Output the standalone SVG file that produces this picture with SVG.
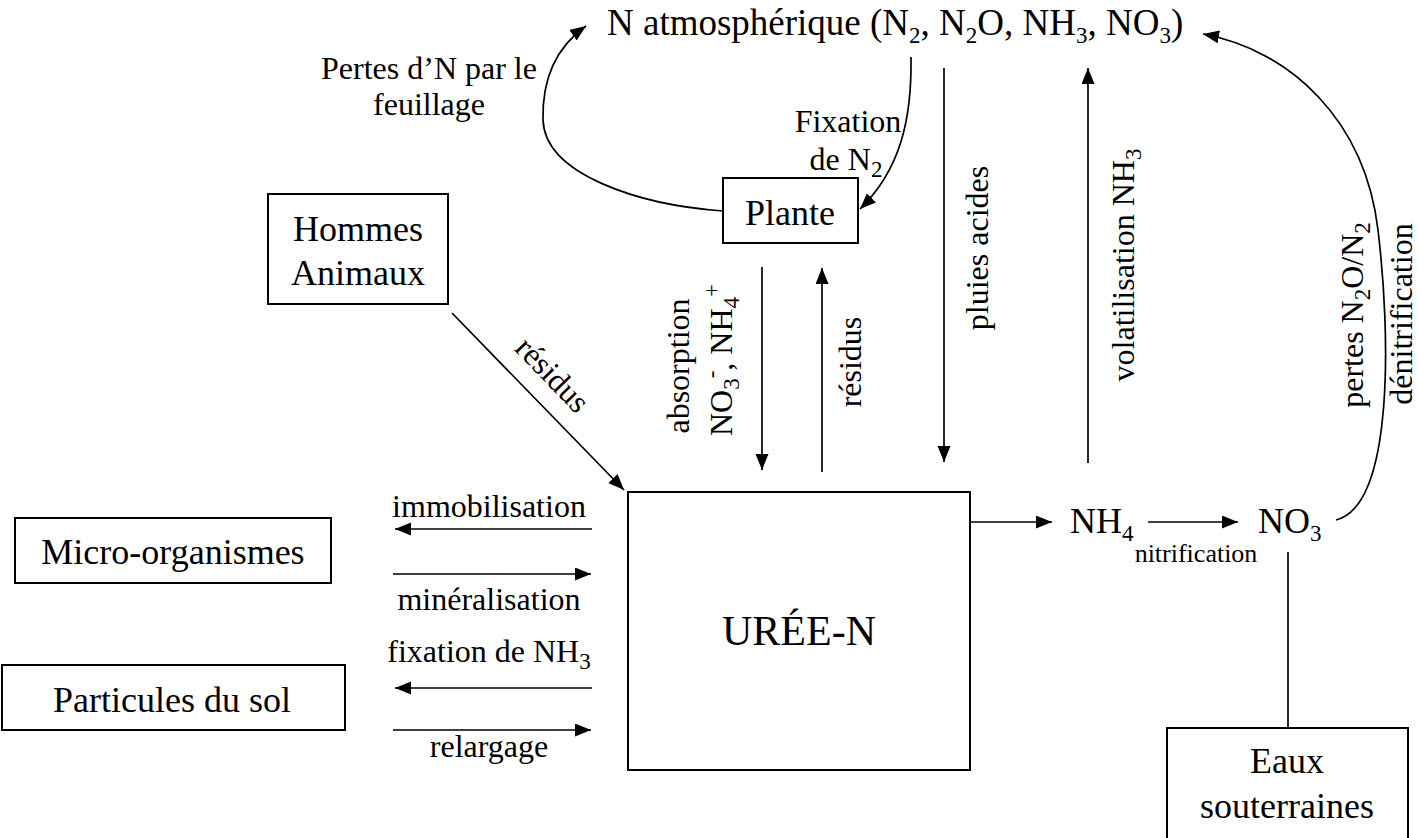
<svg xmlns="http://www.w3.org/2000/svg" width="1419" height="838" viewBox="0 0 1419 838" font-family="'Liberation Serif', 'Times New Roman', serif">
<style>
text{font-family:"Liberation Serif","Times New Roman",serif;fill:#000}
.big{font-size:36px}
.top{font-size:37px}
.lbl{font-size:32px}
.sm{font-size:26px}
.sub{font-size:23px}
.box{fill:#fff;stroke:#000;stroke-width:2}
.ln{fill:none;stroke:#000;stroke-width:1.7}
</style>
<defs>
<marker id="ah" markerWidth="17" markerHeight="14" refX="16" refY="6.5" orient="auto" markerUnits="userSpaceOnUse"><path d="M0,0 L16,6.5 L0,13 z" fill="#000"/></marker>
</defs>
<g id="connectors">
<path class="ln" d="M723,211 C640,205 545,175 543,120 C542,80 555,48 586,26" marker-end="url(#ah)"/>
<path class="ln" d="M911,57 C912,120 900,170 860,209" marker-end="url(#ah)"/>
<line class="ln" x1="944" y1="68" x2="944" y2="462" marker-end="url(#ah)"/>
<line class="ln" x1="1088" y1="463" x2="1088" y2="68" marker-end="url(#ah)"/>
<path class="ln" d="M1336,520 C1395,505 1390,330 1378,230 C1365,120 1290,50 1203,34" marker-end="url(#ah)"/>
<line class="ln" x1="762" y1="267" x2="762" y2="470" marker-end="url(#ah)"/>
<line class="ln" x1="822" y1="472" x2="822" y2="268" marker-end="url(#ah)"/>
<line class="ln" x1="452" y1="313" x2="624" y2="490" marker-end="url(#ah)"/>
<line class="ln" x1="592" y1="529" x2="395" y2="529" marker-end="url(#ah)"/>
<line class="ln" x1="393" y1="574" x2="591" y2="574" marker-end="url(#ah)"/>
<line class="ln" x1="592" y1="688" x2="395" y2="688" marker-end="url(#ah)"/>
<line class="ln" x1="393" y1="730" x2="591" y2="730" marker-end="url(#ah)"/>
<line class="ln" x1="970" y1="522" x2="1052" y2="522" marker-end="url(#ah)"/>
<line class="ln" x1="1148" y1="522" x2="1238" y2="522" marker-end="url(#ah)"/>
<line class="ln" x1="1288" y1="552" x2="1288" y2="728"/>
</g>
<g id="labels">
<text class="lbl" x="429" y="79" text-anchor="middle">Pertes d’N par le</text>
<text class="lbl" x="429" y="115" text-anchor="middle">feuillage</text>
<text class="lbl" x="848" y="132" text-anchor="middle">Fixation</text>
<text class="lbl" x="846" y="170" text-anchor="middle">de N<tspan class="sub" dy="7">2</tspan></text>
<text class="lbl" transform="translate(988,248) rotate(-90)" text-anchor="middle">pluies acides</text>
<text class="lbl" transform="translate(1134,265) rotate(-90)" text-anchor="middle">volatilisation NH<tspan class="sub" dy="7">3</tspan></text>
<text class="lbl" transform="translate(1363,315) rotate(-90)" text-anchor="middle">pertes N<tspan class="sub" dy="7">2</tspan><tspan dy="-7">O/N</tspan><tspan class="sub" dy="7">2</tspan></text>
<text class="lbl" transform="translate(1412,314) rotate(-90)" text-anchor="middle">dénitrification</text>
<text class="lbl" transform="translate(689,366) rotate(-90)" text-anchor="middle">absorption</text>
<text class="lbl" transform="translate(732,360) rotate(-90)" text-anchor="middle">NO<tspan class="sub" dy="7">3</tspan><tspan class="sub" dy="-20">-</tspan><tspan dy="13">, NH</tspan><tspan class="sub" dy="7">4</tspan><tspan class="sub" dy="-20">+</tspan></text>
<text class="lbl" transform="translate(861,362) rotate(-90)" text-anchor="middle">résidus</text>
<text class="lbl" transform="translate(545,382) rotate(46)" text-anchor="middle">résidus</text>
<text class="lbl" x="489" y="517" text-anchor="middle">immobilisation</text>
<text class="lbl" x="489" y="610" text-anchor="middle">minéralisation</text>
<text class="lbl" x="489" y="662" text-anchor="middle">fixation de NH<tspan class="sub" dy="7">3</tspan></text>
<text class="lbl" x="489" y="757" text-anchor="middle">relargage</text>
<text class="sm" x="1196" y="562" text-anchor="middle">nitrification</text>
</g>
<g id="n-atm">
<text class="top" x="607" y="35">N atmosphérique (N<tspan class="sub" dy="8">2</tspan><tspan dy="-8">, N</tspan><tspan class="sub" dy="8">2</tspan><tspan dy="-8">O, NH</tspan><tspan class="sub" dy="8">3</tspan><tspan dy="-8">, NO</tspan><tspan class="sub" dy="8">3</tspan><tspan dy="-8">)</tspan></text>
</g>
<g id="plante">
<rect class="box" x="723" y="178" width="135" height="65"/>
<text class="big" x="790" y="225" text-anchor="middle">Plante</text>
</g>
<g id="hommes">
<rect class="box" x="268" y="194" width="180" height="110"/>
<text class="big" x="358" y="241" text-anchor="middle">Hommes</text>
<text class="big" x="358" y="285" text-anchor="middle">Animaux</text>
</g>
<g id="micro">
<rect class="box" x="15" y="518" width="316" height="65"/>
<text class="big" x="173" y="564" text-anchor="middle">Micro-organismes</text>
</g>
<g id="particules">
<rect class="box" x="2" y="665" width="343" height="65"/>
<text class="big" x="172" y="712" text-anchor="middle">Particules du sol</text>
</g>
<g id="uree">
<rect class="box" x="628" y="492" width="342" height="278"/>
<text x="799" y="645" text-anchor="middle" style="font-size:42px">URÉE-N</text>
</g>
<g id="nh4">
<text class="big" x="1070" y="533">NH<tspan class="sub" dy="8">4</tspan></text>
</g>
<g id="no3">
<text class="big" x="1258" y="533">NO<tspan class="sub" dy="8">3</tspan></text>
</g>
<g id="eaux">
<rect class="box" x="1167" y="728" width="241" height="120"/>
<text class="big" x="1287" y="773" text-anchor="middle">Eaux</text>
<text class="big" x="1287" y="818" text-anchor="middle">souterraines</text>
</g>
</svg>
